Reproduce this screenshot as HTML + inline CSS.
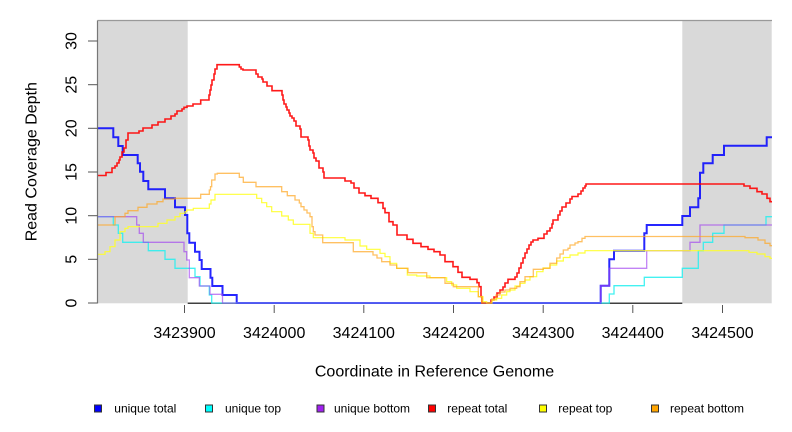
<!DOCTYPE html>
<html>
<head>
<meta charset="utf-8">
<style>
  html, body { margin: 0; padding: 0; background: #ffffff; }
  svg { display: block; }
  text { font-family: "Liberation Sans", Arial, sans-serif; fill: #000; }
</style>
</head>
<body>
<svg width="792" height="432" viewBox="0 0 792 432" xmlns="http://www.w3.org/2000/svg">
  <rect x="0" y="0" width="792" height="432" fill="#ffffff"/>

  <!-- shaded regions -->
  <rect x="97.7" y="20.7" width="90" height="282.6" fill="#d9d9d9"/>
  <rect x="682.3" y="20.7" width="89.4" height="282.6" fill="#d9d9d9"/>

  <!-- black baseline between shaded regions -->
  <line x1="187.7" y1="303.2" x2="682.3" y2="303.2" stroke="#000" stroke-width="1.2"/>

  <g fill="none" stroke-linejoin="miter">
    <!-- unique total (blue) -->
    <path stroke="#0000ff" stroke-opacity="0.85" stroke-width="2"
      d="M97.7,128.3 H113.3 V137.3 H118.3 V146 H122.7 V155 H137.7 V163.3 H140 V171.7 H143.3 V181 H148.3 V189.3 H165 V198.3 H175 V207.3 H185 V215 H187.3 V233.3 H189.3 V242.7 H195 V251.7 H199.5 V260 H201.7 V269 H210.5 V277.7 H212.3 V286 H222.5 V295 H236.7 V303 H600.7 V285.7 H609.3 V259.3 H614 V250.7 H644.3 V233.3 H646.7 V225 H682.3 V216 H690 V207.3 H698.3 V198.3 H700 V172.7 H703.3 V163.3 H712.7 V155 H724 V145.7 H766.7 V137.3 H772"/>
    <!-- unique top (cyan) -->
    <path stroke="#22eeee" stroke-opacity="0.85" stroke-width="1.3"
      d="M97.7,216.7 H113.3 V225 H118.3 V233.3 H122.7 V242.3 H148.3 V250.7 H165 V259.3 H175 V268.3 H195 V276.7 H200 V286 H209.3 V295 H211.7 V303 H609.3 V294 H614 V285.7 H644.3 V277.3 H682.3 V268.3 H698.3 V250.7 H703.3 V242.3 H712.7 V233.3 H724 V225 H766 V216.7 H772"/>
    <!-- unique bottom (purple) -->
    <path stroke="#a040f0" stroke-opacity="0.65" stroke-width="1.3"
      d="M97.7,216.7 H136.7 V225 H139.3 V233.3 H143.3 V242.3 H184 V251.7 H186.7 V260 H189.3 V277.7 H199.3 V286 H210 V294.3 H222.5 V303 H600.7 V285.7 H609.3 V268.3 H646.7 V250.7 H690 V242.3 H700 V225 H772"/>
    <!-- repeat total (red) -->
    <path stroke="#ff0000" stroke-opacity="0.9" stroke-width="1.6"
      d="M97.7,175.5 H106 V172.5 H112 V168 H115 V166 H117 V163 H119 V160 H120 V157 H122 V152 H124 V148 H126 V140 H128 V133 H139 V131 H143 V128 H152 V125 H158 V122 H165 V119 H171 V116 H175 V114 H177 V111 H182 V109 H184 V107.3 H187 V106 H193 V104 H200.7 V100 H209 V95 H210 V90 H211 V85 H212 V80 H214 V74 H215 V69 H217 V64.7 H239.3 V67 H241 V69 H243 V70 H256 V74 H258 V77 H262 V79 H263 V82 H267 V86 H272 V90.7 H282 V95 H283 V100 H284 V104 H286 V107 H287 V110 H289 V113 H290 V116 H292 V118 H294 V121 H296 V126 H300 V129 H301 V137 H308 V140 H309 V146 H310 V150 H313 V153 H314 V158 H316 V161 H319 V168 H323 V172 H324 V178 H345 V181 H351 V183 H354 V188 H359 V193 H365 V195.7 H371 V198.3 H378 V202.7 H383 V208.3 H385 V212.7 H389 V221.7 H393 V225 H397 V235 H407 V239.3 H413 V243.3 H421 V246.7 H428 V249.3 H434 V251.7 H440 V255 H445 V261.7 H453 V266.7 H458 V272.3 H462 V277.3 H470 V279.3 H477 V282.7 H479 V286.7 H481 V296.7 H482 V303 H491 V300 H494 V297 H497 V293 H500 V290 H503 V287 H505 V283 H508 V279.3 H515 V277 H517 V273 H519 V268 H521 V263 H523 V258 H525 V253 H527 V249 H529 V245 H531 V242 H533 V240 H538 V238.3 H544 V234 H547 V231 H550 V228 H552 V224 H553 V220 H558 V215 H560 V211 H562 V207 H566 V203 H570 V199 H572 V196.5 H578 V194 H581 V191 H583 V188 H585 V186 H586 V184 H744 V186 H750 V188.3 H757 V191.7 H762 V194 H767 V198.3 H770 V201.7 H772"/>
    <!-- repeat top (yellow) -->
    <path stroke="#ffff22" stroke-opacity="0.9" stroke-width="1.2"
      d="M97.7,254.3 H105 V251.7 H110 V246.7 H115 V240 H120 V231.7 H125 V228.3 H128 V226.7 H158 V223.3 H167 V220 H175 V216.7 H180 V213.3 H185 V211.7 H186.7 V210 H193.3 V208.3 H209.3 V204 H211 V200 H215 V194.3 H256.7 V198.3 H261.7 V202.7 H266.7 V206.7 H271.7 V211.7 H281.7 V216 H288.3 V220 H293.3 V224.3 H310 V233.3 H313.3 V237.7 H345 V240 H360 V246 H366.7 V249.3 H380 V253.3 H385 V256.7 H390 V263.3 H396.7 V268.3 H407.3 V275 H416.7 V276 H430 V277.7 H446.7 V281.7 H451.7 V285 H456.7 V288.3 H470 V291.7 H478.3 V296.7 H483 V301.7 H486.7 V303 H492 V300 H496.7 V298.3 H501.7 V295 H506.7 V291.7 H510 V290 H515 V286 H520 V283.3 H525 V280 H530 V276.7 H536.7 V271.7 H543 V268 H550 V265 H556.7 V261 H563.3 V257.5 H570 V255 H578 V253 H585 V250.7 H749 V252.3 H757 V254 H765 V256.7 H770 V258.3 H772"/>
    <!-- repeat bottom (orange) -->
    <path stroke="#ffa520" stroke-opacity="0.7" stroke-width="1.3"
      d="M97.7,225 H115 V216.7 H125 V213.3 H128 V210.7 H138 V207.3 H147 V204 H157 V201.7 H163 V199 H175 V198.3 H200.7 V194.3 H209.3 V190 H210.5 V186.7 H211.7 V180 H215 V174 H217.3 V173.3 H239.3 V177.3 H243.3 V182.3 H256 V186.7 H281.7 V191.7 H287.3 V195.7 H295 V200 H299.3 V203 H301 V206.7 H304 V210 H307 V213 H310 V216.7 H312 V226.7 H313.3 V231.7 H315 V235 H322.7 V242.7 H353.3 V251.7 H373 V255 H377 V258 H381.7 V261.7 H390 V265 H396.7 V268.3 H408 V272.7 H426.7 V277.7 H445 V283.3 H453.3 V286.7 H478.3 V296.7 H481.7 V303 H491.7 V299 H496 V295 H500 V292 H505 V290 H510 V288.3 H516.7 V286.7 H520 V281.7 H525 V276.7 H533.3 V269.3 H543.3 V268.3 H550 V263.3 H556.7 V258 H560 V254 H563.3 V250 H568 V248.3 H570 V245 H575 V243 H578 V241.7 H582 V238.3 H585 V236.5 H745 V237.7 H758 V240 H765 V243.3 H770 V245.7 H772"/>
  </g>

  <!-- frame: top line and left axis -->
  <line x1="97.5" y1="20.5" x2="772" y2="20.5" stroke="#999" stroke-width="1.2"/>
  <line x1="97.5" y1="20.5" x2="97.5" y2="303.5" stroke="#777" stroke-width="1.2"/>

  <!-- y ticks -->
  <g stroke="#555" stroke-width="1">
    <line x1="88" y1="303" x2="97.5" y2="303"/>
    <line x1="88" y1="259.3" x2="97.5" y2="259.3"/>
    <line x1="88" y1="215.7" x2="97.5" y2="215.7"/>
    <line x1="88" y1="172" x2="97.5" y2="172"/>
    <line x1="88" y1="128.3" x2="97.5" y2="128.3"/>
    <line x1="88" y1="84.7" x2="97.5" y2="84.7"/>
    <line x1="88" y1="41" x2="97.5" y2="41"/>
  </g>
  <g font-size="16" text-anchor="middle">
    <text transform="translate(76.5,303) rotate(-90)">0</text>
    <text transform="translate(76.5,259.3) rotate(-90)">5</text>
    <text transform="translate(76.5,215.7) rotate(-90)">10</text>
    <text transform="translate(76.5,172) rotate(-90)">15</text>
    <text transform="translate(76.5,128.3) rotate(-90)">20</text>
    <text transform="translate(76.5,84.7) rotate(-90)">25</text>
    <text transform="translate(76.5,41) rotate(-90)">30</text>
  </g>

  <!-- x ticks -->
  <g stroke="#555" stroke-width="1">
    <line x1="184.5" y1="305" x2="184.5" y2="313"/>
    <line x1="274.2" y1="305" x2="274.2" y2="313"/>
    <line x1="363.8" y1="305" x2="363.8" y2="313"/>
    <line x1="453.5" y1="305" x2="453.5" y2="313"/>
    <line x1="543.2" y1="305" x2="543.2" y2="313"/>
    <line x1="632.8" y1="305" x2="632.8" y2="313"/>
    <line x1="722.5" y1="305" x2="722.5" y2="313"/>
  </g>
  <g font-size="16" text-anchor="middle">
    <text x="184.5" y="338">3423900</text>
    <text x="274.2" y="338">3424000</text>
    <text x="363.8" y="338">3424100</text>
    <text x="453.5" y="338">3424200</text>
    <text x="543.2" y="338">3424300</text>
    <text x="632.8" y="338">3424400</text>
    <text x="722.5" y="338">3424500</text>
  </g>

  <!-- axis titles -->
  <text x="434.5" y="376.7" font-size="16" text-anchor="middle">Coordinate in Reference Genome</text>
  <text transform="translate(36.5,161.7) rotate(-90)" font-size="16" text-anchor="middle">Read Coverage Depth</text>

  <!-- legend -->
  <g stroke="#333" stroke-width="1">
    <rect x="94.5" y="405" width="7" height="7" fill="#0000ff"/>
    <rect x="205.5" y="405" width="7" height="7" fill="#00ffff"/>
    <rect x="317" y="405" width="7" height="7" fill="#a020f0"/>
    <rect x="428.5" y="405" width="7" height="7" fill="#ff0000"/>
    <rect x="539.5" y="405" width="7" height="7" fill="#ffff00"/>
    <rect x="651.5" y="405" width="7" height="7" fill="#ffa500"/>
  </g>
  <g font-size="12">
    <text x="114.3" y="412.5">unique total</text>
    <text x="225" y="412.5">unique top</text>
    <text x="334" y="412.5">unique bottom</text>
    <text x="447.3" y="412.5">repeat total</text>
    <text x="558.3" y="412.5">repeat top</text>
    <text x="670" y="412.5">repeat bottom</text>
  </g>
</svg>
</body>
</html>
